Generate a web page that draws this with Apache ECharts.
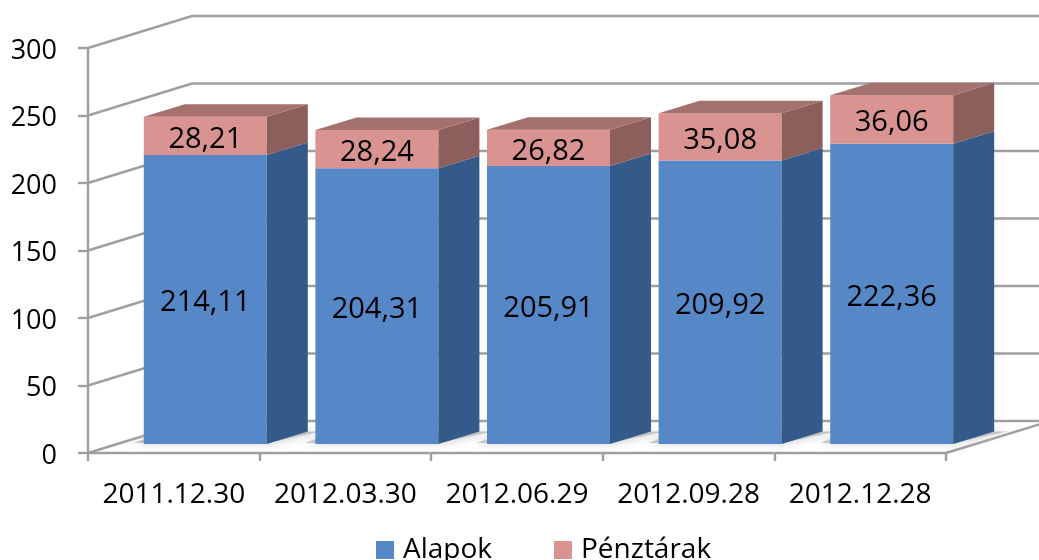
<!DOCTYPE html>
<html>
<head>
<meta charset="utf-8">
<style>
  html, body { margin: 0; padding: 0; background: #fff; overflow: hidden; }
  #chart { width: 1039px; height: 560px; }
</style>
<script src="https://cdn.jsdelivr.net/npm/echarts@6/dist/echarts.min.js"></script>
</head>
<body>
<div id="chart"></div>
<script>
var categories = ['2011.12.30', '2012.03.30', '2012.06.29', '2012.09.28', '2012.12.28'];
var alapok = [214.11, 204.31, 205.91, 209.92, 222.36];
var penztarak = [28.21, 28.24, 26.82, 35.08, 36.06];
var yTicks = [0, 50, 100, 150, 200, 250, 300];

var font = '"Open Sans", sans-serif';
var wallLine = '#9f9f9f';
// 3d look: how far the back wall and the bars are pushed from the front plane
var wallDx = 104, wallDy = -32;
var barDx = 41, barDy = -12.5;
var barShiftX = 31.5, barShiftY = -9, barWidth = 123;

function hu(v) {
  return v.toFixed(2).replace('.', ',');
}

function poly(points, fill, z2) {
  return { type: 'polygon', z2: z2 || 0, shape: { points: points }, style: { fill: fill }, silent: true };
}

// back wall and floor, one line per y tick
function renderWall(params, api) {
  var sys = params.coordSys;
  var y = api.coord([0, api.value(0)])[1];
  var x0 = sys.x, x1 = sys.x + sys.width;
  var points = [[x0, y], [x0 + wallDx, y + wallDy], [x1 + wallDx, y + wallDy]];
  if (api.value(0) === 0) {
    points = [[x0, y], [x0 + wallDx, y + wallDy], [x1 + wallDx, y + wallDy], [x1, y]];
  }
  return {
    type: 'polyline',
    shape: { points: points },
    style: { fill: null, stroke: wallLine, lineWidth: 2.4 },
    silent: true
  };
}

function floorShadow(params, api) {
  var c = api.coord([api.value(0), 0]);
  var l = c[0] + barShiftX - barWidth / 2, r = l + barWidth, b = c[1] + barShiftY;
  return {
    type: 'polygon',
    shape: { points: [[l - 10, b - 1], [r, b - 1], [r + barDx + 14, b + barDy], [l + 20, b + barDy]] },
    style: { fill: '#c4c4c4', shadowBlur: 8, shadowColor: '#c4c4c4' },
    silent: true
  };
}

function boxRenderer(front, side, top) {
  return function (params, api) {
    var idx = api.value(0);
    var from = api.coord([idx, api.value(1)]);
    var to = api.coord([idx, api.value(2)]);
    var l = from[0] + barShiftX - barWidth / 2;
    var r = l + barWidth;
    var yb = from[1] + barShiftY;
    var yt = to[1] + barShiftY;
    var children = [
      poly([[l, yb], [r, yb], [r, yt], [l, yt]], front),
      poly([[r, yb], [r + barDx, yb + barDy], [r + barDx, yt + barDy], [r, yt]], side)
    ];
    if (top) {
      children.push(poly([[l, yt], [r, yt], [r + barDx, yt + barDy], [l + barDx, yt + barDy]], top));
    }
    children.push({
      type: 'text',
      z2: 5,
      silent: true,
      style: {
        x: (l + r) / 2,
        y: (yb + yt) / 2 + 3.5,
        text: hu(api.value(3)),
        fill: '#000',
        font: '29px ' + font,
        align: 'center',
        verticalAlign: 'middle'
      }
    });
    return { type: 'group', children: children };
  };
}

var wallData = yTicks.map(function (t) { return [t]; });
var shadowData = categories.map(function (c, i) { return [i]; });
var alapokData = alapok.map(function (v, i) { return [i, 0, v, v]; });
var penztarakData = penztarak.map(function (v, i) { return [i, alapok[i], alapok[i] + v, v]; });

var chart = echarts.init(document.getElementById('chart'), null, { renderer: 'canvas' });
chart.setOption({
  animation: false,
  backgroundColor: '#fff',
  grid: { left: 88, right: 93, top: 48, height: 405 },
  legend: {
    left: 376,
    top: 536,
    padding: 0,
    itemWidth: 18,
    itemHeight: 18,
    itemGap: 62,
    icon: 'rect',
    data: ['Alapok', 'Pénztárak'],
    textStyle: { fontFamily: font, fontSize: 28, color: '#000', padding: [0, 0, 0, 4] }
  },
  xAxis: {
    type: 'category',
    data: categories,
    axisLine: { lineStyle: { color: wallLine, width: 2.4 } },
    axisTick: { show: true, length: 8, lineStyle: { color: wallLine, width: 2.4 } },
    axisLabel: { fontFamily: font, fontSize: 28, color: '#000', margin: 28, interval: 0 }
  },
  yAxis: {
    type: 'value',
    min: 0,
    max: 300,
    interval: 50,
    axisLine: { show: true, lineStyle: { color: wallLine, width: 2.4 } },
    axisTick: { show: true, length: 10, lineStyle: { color: wallLine, width: 2.4 } },
    // labels sit a little below their tick in the original
    axisLabel: { fontFamily: font, fontSize: 27, color: '#000', margin: 31, verticalAlign: 'top', lineHeight: 6 },
    splitLine: { show: false }
  },
  series: [
    { type: 'custom', name: 'wall', renderItem: renderWall, data: wallData, z: 1, encode: { y: 0 } },
    { type: 'custom', name: 'shadow', renderItem: floorShadow, data: shadowData, z: 2, encode: { x: 0 } },
    {
      type: 'custom',
      name: 'Alapok',
      renderItem: boxRenderer('#5687c6', '#335a88', null),
      data: alapokData,
      z: 3,
      itemStyle: { color: '#5687c6' },
      encode: { x: 0, y: 2 }
    },
    {
      type: 'custom',
      name: 'Pénztárak',
      renderItem: boxRenderer('#d99391', '#8c5f5c', '#a5716e'),
      data: penztarakData,
      z: 4,
      itemStyle: { color: '#d99391' },
      encode: { x: 0, y: 2 }
    }
  ]
});
</script>
</body>
</html>
